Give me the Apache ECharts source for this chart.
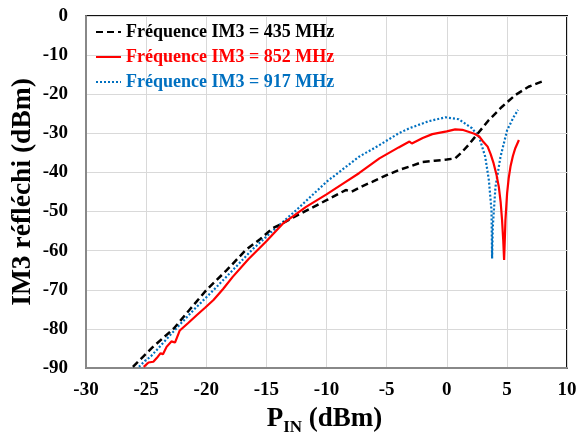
<!DOCTYPE html>
<html><head><meta charset="utf-8">
<script src="https://cdn.jsdelivr.net/npm/echarts@6/dist/echarts.min.js"></script>
<style>html,body{margin:0;padding:0;background:#fff}#c{width:578px;height:439px}</style>
</head><body><div id="c"></div>
<script>
const names = ['Fréquence IM3 = 435 MHz', 'Fréquence IM3 = 852 MHz', 'Fréquence IM3 = 917 MHz'];
const xTicks = [-30, -25, -20, -15, -10, -5, 0, 5, 10];
const yTicks = [0, -10, -20, -30, -40, -50, -60, -70, -80, -90];

const x435 = [-26.1, -24.5, -22.7, -21.3, -20.0, -18.3, -16.7, -15.5, -14.5, -13.4, -12.4, -11.2, -10.0, -8.4, -7.9, -7.0, -6.2, -5.0, -4.0, -3.0, -2.0, -1.0, 0.0, 0.7, 1.2, 1.8, 2.7, 3.5, 4.6, 5.7, 6.8, 7.9];
const y435 = [-89.7, -84.8, -79.9, -74.8, -70.1, -65.0, -59.8, -57.0, -54.3, -52.6, -50.9, -49.0, -47.1, -44.5, -44.9, -43.5, -42.4, -40.7, -39.4, -38.4, -37.3, -37.0, -36.7, -36.4, -35.0, -33.0, -29.6, -26.6, -23.2, -20.2, -18.1, -16.8];

const x852 = [-25.2, -24.8, -24.4, -24.1, -23.8, -23.6, -23.3, -22.9, -22.6, -22.2, -21.5, -20.8, -20.1, -19.4, -18.6, -17.8, -16.5, -15.0, -13.6, -11.7, -10.0, -8.5, -7.3, -5.6, -4.0, -3.1, -2.9, -2.0, -1.2, 0.0, 0.7, 1.3, 1.8, 2.3, 2.7, 3.0, 3.4, 3.65, 3.9, 4.13, 4.33, 4.48, 4.6, 4.7, 4.77, 4.83, 4.88, 5.02, 5.15, 5.3, 5.5, 5.7, 6.0];
const y852 = [-89.7, -88.6, -88.4, -87.4, -86.2, -86.5, -84.6, -83.2, -83.5, -80.4, -78.5, -76.5, -74.6, -72.6, -69.8, -66.7, -62.2, -57.6, -53.0, -48.8, -45.6, -42.6, -40.2, -36.4, -33.6, -32.1, -32.6, -31.2, -30.2, -29.5, -29.0, -29.1, -29.6, -30.1, -30.8, -32.0, -33.4, -35.3, -37.7, -40.5, -43.7, -47.5, -52.2, -57.5, -62.4, -57.0, -52.2, -45.3, -41.5, -38.5, -35.8, -33.8, -31.7];

const x917 = [-25.6, -25.1, -24.6, -24.0, -23.5, -22.5, -21.0, -19.4, -17.8, -16.2, -14.5, -12.5, -10.0, -7.3, -5.6, -4.0, -3.1, -1.5, -0.1, 1.0, 2.1, 2.7, 3.2, 3.5, 3.72, 3.77, 3.83, 4.05, 4.47, 5.02, 5.57, 5.93];
const y917 = [-89.7, -88.2, -87.0, -85.0, -83.3, -79.9, -75.0, -70.1, -65.0, -59.8, -55.0, -49.6, -42.4, -36.0, -33.0, -30.0, -28.7, -26.9, -25.9, -26.4, -28.7, -31.0, -36.0, -41.9, -49.6, -62.0, -53.9, -43.7, -36.0, -29.2, -25.8, -24.0];

const colors = ['#000000', '#FF0000', '#0070C0'];
const font = '"Liberation Serif", "Times New Roman", serif';
function pairs(xs, ys) { return xs.map((x, i) => [x, ys[i]]); }

const chart = echarts.init(document.getElementById('c'), null, {renderer: 'canvas'});
chart.setOption({
  animation: false,
  backgroundColor: '#fff',
  grid: {left: 86, right: 11, top: 16, bottom: 71, outerBoundsMode: 'none', containLabel: false,
    show: true, borderColor: '#111', borderWidth: 2, backgroundColor: 'transparent'},
  legend: {
    orient: 'vertical', left: 95, top: 23, padding: 0, itemWidth: 25, itemHeight: 14, itemGap: 7,
    itemStyle: {opacity: 0},
    data: names.map((n, i) => ({name: n, textStyle: {color: colors[i]}})),
    textStyle: {fontFamily: font, fontWeight: 'bold', fontSize: 18}
  },
  xAxis: {
    type: 'value', min: -30, max: 10, interval: 5,
    axisLine: {show: true, onZero: false, lineStyle: {color: '#888', width: 2}},
    axisTick: {show: false},
    splitLine: {show: true, lineStyle: {color: '#d9d9d9', width: 1}},
    axisLabel: {fontFamily: font, fontWeight: 'bold', fontSize: 19, color: '#000', margin: 13,
      formatter: v => xTicks.includes(v) ? String(v) : ''},
    name: '{p|P}{s|IN}{p| (dBm)}', nameLocation: 'middle', nameGap: 37, nameMoveOverlap: false,
    nameTextStyle: {
      padding: [0, 4, 0, 0],
      rich: {
        p: {fontFamily: font, fontWeight: 'bold', fontSize: 27, color: '#000', lineHeight: 28, verticalAlign: 'bottom'},
        s: {fontFamily: font, fontWeight: 'bold', fontSize: 17, color: '#000', lineHeight: 17, verticalAlign: 'bottom', padding: [0, 0, -3, 0]}
      }
    }
  },
  yAxis: {
    type: 'value', min: -90, max: 0, interval: 10,
    axisLine: {show: true, onZero: false, lineStyle: {color: '#888', width: 2}},
    axisTick: {show: false},
    splitLine: {show: true, lineStyle: {color: '#d9d9d9', width: 1}},
    axisLabel: {fontFamily: font, fontWeight: 'bold', fontSize: 19, color: '#000', margin: 18,
      formatter: v => yTicks.includes(v) ? String(v) : ''},
    name: 'IM3 réfléchi (dBm)', nameLocation: 'middle', nameGap: 49, nameMoveOverlap: false,
    nameTextStyle: {fontFamily: font, fontWeight: 'bold', fontSize: 27.5, color: '#000'}
  },
  series: [
    {name: names[0], type: 'line', data: pairs(x435, y435), showSymbol: false, symbol: 'none', z: 3,
      lineStyle: {color: colors[0], width: 2.5, type: [7, 4]}, itemStyle: {color: colors[0], opacity: 0}},
    {name: names[1], type: 'line', data: pairs(x852, y852), showSymbol: false, symbol: 'none', z: 4,
      lineStyle: {color: colors[1], width: 2.2, type: 'solid'}, itemStyle: {color: colors[1], opacity: 0}},
    {name: names[2], type: 'line', data: pairs(x917, y917), showSymbol: false, symbol: 'none', z: 2,
      lineStyle: {color: colors[2], width: 2.2, type: [2, 2]}, itemStyle: {color: colors[2], opacity: 0}}
  ]
});
</script></body></html>
